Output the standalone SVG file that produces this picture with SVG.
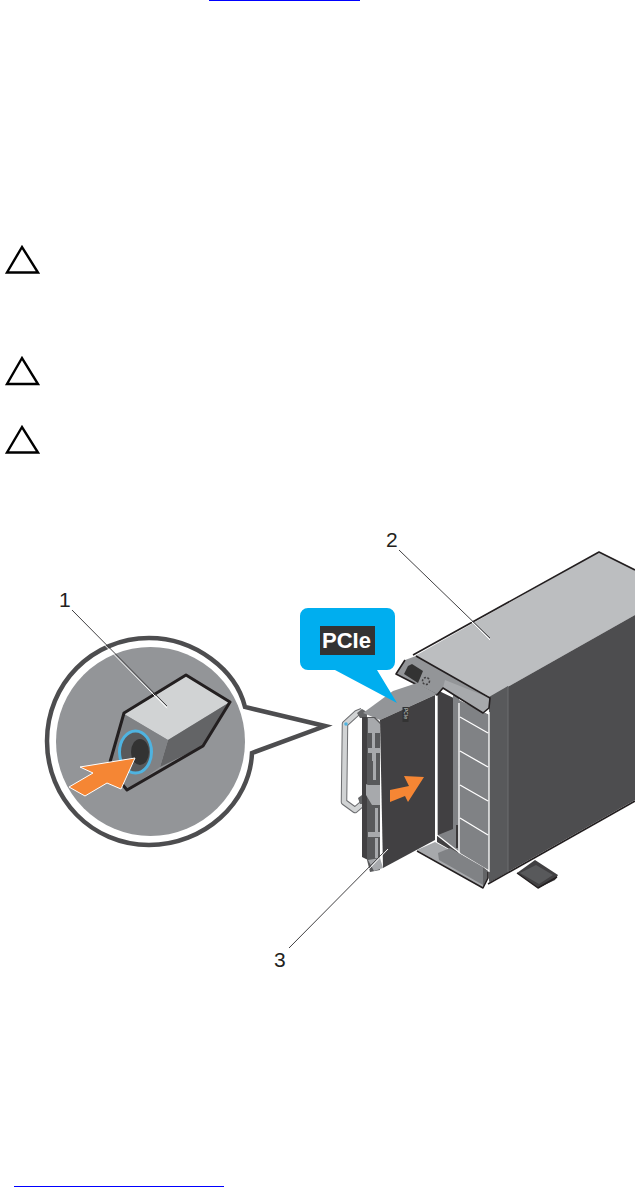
<svg xmlns="http://www.w3.org/2000/svg" width="635" height="1187" viewBox="0 0 635 1187">
<style>
.lbl{font-family:"Liberation Sans",Arial,sans-serif;font-size:21px;fill:#231f20}
.tri{fill:none;stroke:#000;stroke-width:2.4}
.lead{fill:none;stroke:#414042;stroke-width:1}
.halo{fill:none;stroke:#fff;stroke-width:1}
.edge{fill:none;stroke:#231f20;stroke-width:1.600;stroke-linejoin:round}
.thin{fill:none;stroke:#231f20;stroke-width:1.500;stroke-linejoin:round}
.arr{fill:#f58634;stroke:#fff;stroke-width:1}
.arr2{fill:#f58634}
.slat{stroke:#fff;stroke-width:1.300;fill:none}
.vent{fill:#a7a9ac}
.body{fill:#a7a9ac}
</style>
<rect width="635" height="1187" fill="#fff"/>
<rect x="209" y="0" width="151" height="1" fill="#0000ff"/>
<rect x="14" y="1186" width="210" height="1" fill="#0000ff"/>
<g id="caution-icons">
<path class="tri" d="M22 247L7 272.500H38Z"/>
<path class="tri" d="M22 358L7 384H38Z"/>
<path class="tri" d="M22 427L7 452.500H38Z"/>
</g>
<g id="inset">
<path d="M245 707C236 670 195 638 149 638C92 638 47 684 47 741C47 799 92 845 149 845C204 845 250 803 252 753L325 726Z" fill="#fff" stroke="#4d4d4f" stroke-width="4.500" stroke-linejoin="miter"/>
<circle cx="150.500" cy="741.500" r="94.500" fill="#939598"/>
<path d="M124 714L186 676L230 702L168 740Z" fill="#d1d3d4"/>
<path d="M168 740L230 702L203 746L160 767Z" fill="#636466"/>
<path d="M124 714L168 740L160 767L127 790L110 762Z" fill="#808285"/>
<path d="M110 762L124 713L186 675L230 702L203 746L127 790L122 784" fill="none" stroke="#231f20" stroke-width="3" stroke-linejoin="round"/>
<ellipse cx="135.500" cy="752" rx="16" ry="21" fill="#58595b" stroke="#4fb3e0" stroke-width="3"/>
<ellipse cx="140" cy="752" rx="9" ry="13" fill="#333"/>
<path class="arr" d="M135 758L80 767L93 773L69 787L85 796L107 783L121 789Z"/>
</g>
<g id="tower">
<path d="M415 656L599 552L635 570V615L490 697Z" fill="#bcbec0"/>
<path d="M490 697L635 615V800L490 882Z" fill="#4d4d4f"/>
<path d="M489 697L508 686V872L489 882Z" fill="#58595b"/>
<path d="M508 686V872" stroke="#6d6e71" fill="none"/>
<path d="M413 655L599 552L635 570" class="edge"/>
<path d="M488 884L635 801" class="edge"/>
<path d="M437 690L489 715V872L437 842Z" fill="#414042"/>
<path d="M438 835L453 829L460 852L452 848Z" fill="#808285"/>
<path d="M453 695H459V850L453 847Z" fill="#808285"/>
<path d="M459 700L489 715V871L459 853Z" fill="#808285"/>
<path d="M457 825V848" stroke="#231f20" stroke-width="1.500"/>
<path class="slat" d="M459 703V853L489 871V712M460 717L488 733M460 751L488 767M460 785L488 801M460 818L488 835"/>
<path d="M437 695V835L460 853" class="slat"/>
<path d="M405 660L416 656L490 698L489 708L483 713L443 688L437 695L396 674Z" fill="#939598"/>
<path d="M445 680L490 698L489 708L483 713L443 688Z" fill="#a7a9ac"/>
<path d="M416 656L490 698L489 708L483 713L443 688L437 695L396 674L405 660" class="edge"/>
<path d="M404 674L408 666L412 664L423 671L418 683Z" fill="#333"/>
<circle cx="426" cy="681" r="3.500" fill="none" stroke="#414042" stroke-width="1.500" stroke-dasharray="2 1.500"/>
<path d="M417 850L435 842L488 871V878L483 888Z" fill="#a7a9ac"/>
<path d="M438 853L450 848L483 867V885L439 860Z" fill="#808285"/>
<path d="M483 867L488 871V878L483 888Z" fill="#636466"/>
<path d="M488 872V878L483 888L417 851" class="thin"/>
<path d="M517 873L535 860L558 875L555 880L538 888Z" fill="#414042"/>
<path d="M520 873L536 865L553 875L539 884Z" fill="#58595b"/>
<path d="M517 873L538 888L557 877" class="thin"/>
</g>
<g id="module">
<path d="M362 711L357 713L345 724L344 802L355 810L362 804" fill="none" stroke="#6d6e71" stroke-width="6.500" stroke-linejoin="round"/>
<path d="M362 711L357 713L345 724L344 802L355 810L362 804" fill="none" stroke="#d1d3d4" stroke-width="4.500" stroke-linejoin="round"/>
<circle cx="346" cy="724" r="1.800" fill="#4fb3e0"/>
<path d="M357 713L362 709L367 712V718H360Z" fill="#636466"/>
<path d="M358 798L362 795L367 798V804H360Z" fill="#636466"/>
<path d="M363 713L393 691L417 683L437 694L380 720Z" fill="#939598"/>
<path d="M362 717H368V860L362 857Z" fill="#414042"/>
<path d="M367 717L375 717L380 722V870L370 872L367 860Z" fill="#58595b"/>
<path class="body" d="M368 718L374 718L380 724V733H368Z"/>
<path class="body" d="M366 784L368 785L380 785V805H372L366 795Z"/>
<path class="body" d="M368 860L380 858L383 868L374 871Z"/>
<path class="vent" d="M372 727H375V761H372ZM373 752H376V780H373ZM375 808H378V834H375ZM375 838H378V858H375Z"/>
<path class="body" d="M368 748L380 748V753H368Z"/>
<path class="body" d="M368 832L380 832V837H368Z"/>
<path d="M380 720L435 695V840L383 868Z" fill="#414042"/>
<rect x="402.500" y="707" width="6" height="15" fill="#333"/>
<text x="0" y="0" transform="translate(403.500 708) rotate(90)" font-family="Liberation Sans,Arial,sans-serif" font-size="5" fill="#d1d3d4">PCIe</text>
<path class="arr2" d="M424 777L404 776L409 786L390 790V802L405 796L408 802Z"/>
</g>
<g id="callout">
<path d="M308 608H387A8 8 0 0 1 395 616V662A8 8 0 0 1 387 670H377L397 703L335 670H308A8 8 0 0 1 300 662V616A8 8 0 0 1 308 608Z" fill="#00aeef"/>
<rect x="320" y="626" width="55" height="29" fill="#333"/>
<text x="322" y="648" font-family="Liberation Sans,Arial,sans-serif" font-size="22" font-weight="700" fill="#fff">PCIe</text>
</g>
<g id="connectors">
<path class="lead" d="M72 610L167 706"/>
<path class="halo" d="M97 636L167 707" transform="translate(0 1.200)"/>
<path class="lead" d="M399 550L490 638"/>
<path class="halo" d="M463 612L490 639" transform="translate(0 1)"/>
<path class="lead" d="M388 848L289 948"/>
<path class="halo" d="M388 848L368 869" transform="translate(0 1)"/>
</g>
<g id="labels">
<text class="lbl" x="59" y="607">1</text>
<text class="lbl" x="386" y="547">2</text>
<text class="lbl" x="274" y="967">3</text>
</g>
</svg>
